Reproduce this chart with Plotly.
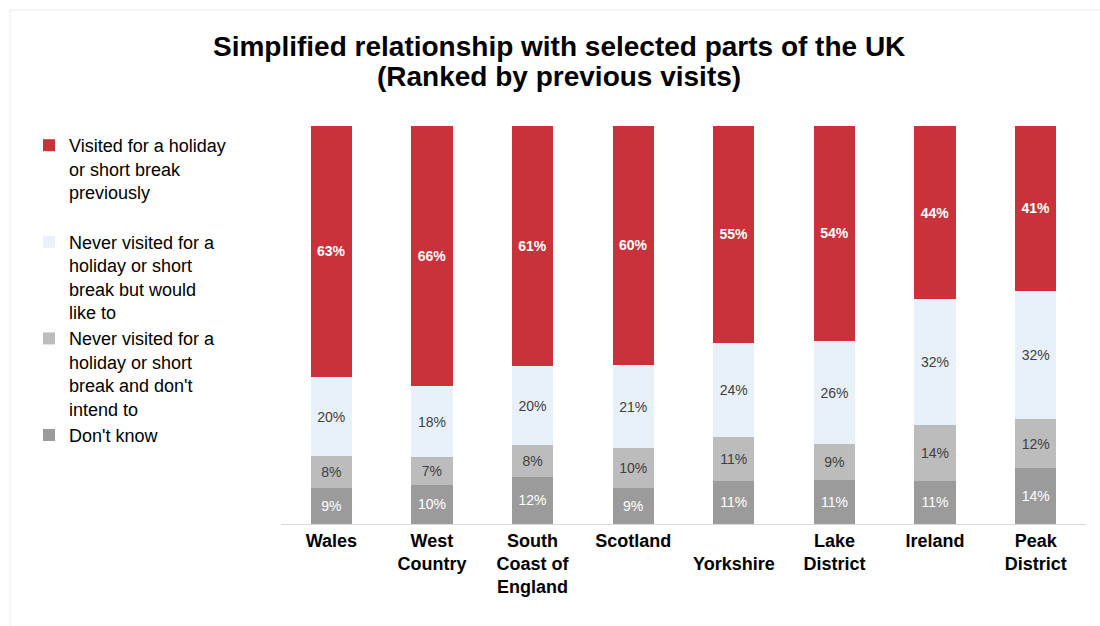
import plotly.graph_objects as go

# Destinations, ranked by share who have visited before
regions = ["Wales", "West<br>Country", "South<br>Coast of<br>England", "Scotland",
           "<br>Yorkshire", "Lake<br>District", "Ireland", "Peak<br>District"]

visited = [63, 66, 61, 60, 55, 54, 44, 41]
would_like = [20, 18, 20, 21, 24, 26, 32, 32]
dont_intend = [8, 7, 8, 10, 11, 9, 14, 12]
dont_know = [9, 10, 12, 9, 11, 11, 11, 14]

title_lines = ["Simplified relationship with selected parts of the UK",
               "(Ranked by previous visits)"]

# Stacked bottom-up: Don't know, don't intend, would like, visited
series = [
    ("Don't know", dont_know, "#9b9b9c", "white", False),
    ("Never visited for a<br>holiday or short<br>break and don't<br>intend to", dont_intend, "#bcbcbd", "#404040", False),
    ("Never visited for a<br>holiday or short<br>break but would<br>like to", would_like, "#e8f1f9", "#404040", False),
    ("Visited for a holiday<br>or short break<br>previously<br>&nbsp;", visited, "#c9323b", "white", True),
]

FONT = "Liberation Sans, Arial, sans-serif"

fig = go.Figure()
for name, vals, color, tcolor, bold in series:
    labels = [f"<b>{v}%</b>" if bold else f"{v}%" for v in vals]
    fig.add_trace(go.Bar(
        x=regions, y=vals, name=name,
        marker=dict(color=color, line=dict(width=0)),
        text=labels, textposition="inside", insidetextanchor="middle",
        textangle=0, constraintext="none",
        textfont=dict(family=FONT, size=14, color=tcolor),
    ))

# Pixel layout helpers
L, R, T, B = 281, 14, 126, 102
W, H = 1100, 626
pw, ph = W - L - R, H - T - B


def px_x(p):
    return (p - L) / pw


def px_y(p):
    return (H - B - p) / ph


# Two-line heading, each line placed on its own
for line, yc in zip(title_lines, [47, 77]):
    fig.add_annotation(
        text=f"<b>{line}</b>", showarrow=False,
        xref="paper", x=px_x(559), xanchor="center",
        yref="paper", y=px_y(yc), yanchor="middle",
        font=dict(family=FONT, size=28, color="#000000"),
    )

fig.update_layout(
    width=W, height=H,
    margin=dict(l=L, r=R, t=T, b=B),
    barmode="stack", barnorm="percent", bargap=0.59,
    plot_bgcolor="white", paper_bgcolor="white",
    font=dict(family=FONT, color="#000000"),
    showlegend=True,
    legend=dict(
        traceorder="reversed", valign="top",
        x=px_x(29), xanchor="left", y=px_y(127), yanchor="top",
        font=dict(family=FONT, size=18, color="#000000"),
        bgcolor="rgba(0,0,0,0)", itemwidth=30,
    ),
    xaxis=dict(
        showgrid=False, showline=True, linecolor="#d9d9d9", linewidth=1,
        ticks="", tickfont=dict(family=FONT, size=18, color="#000000"),
        tickprefix="<b>", ticksuffix="</b>",
    ),
    yaxis=dict(range=[0, 100], visible=False, showgrid=False),
    shapes=[dict(
        type="rect", xref="paper", yref="paper",
        x0=px_x(10), x1=px_x(1115), y0=px_y(640), y1=px_y(10),
        line=dict(color="#ebebeb", width=1), fillcolor="rgba(0,0,0,0)",
        layer="below",
    )],
)

fig.write_html("out.html")
